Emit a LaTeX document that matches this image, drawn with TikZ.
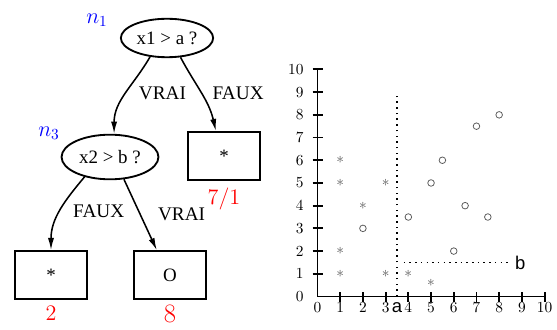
\documentclass[tikz,border=0pt]{standalone}
\usepackage{amsmath, amssymb}
\usepackage{fontspec}
\usepackage{tikz}
\usetikzlibrary{positioning, arrows.meta, shapes.geometric}
\usepackage{xcolor}
\newfontfamily\treefont{Liberation Serif}
\newfontfamily\cutfont{Liberation Sans}
\definecolor{ptgray}{gray}{0.35}

\begin{document}
\begin{tikzpicture}[x=0.65pt, y=0.65pt,
    test/.style={ellipse, draw, line width=1.2pt, inner sep=0pt,
        font=\treefont\fontsize{12.3}{14}\selectfont},
    leaf/.style={rectangle, draw, line width=1.2pt, minimum width=47pt,
        minimum height=31pt, inner sep=0pt,
        font=\treefont\fontsize{12.3}{14}\selectfont},
    branch/.style={-{Latex[length=8pt, width=4pt]}, line width=1pt},
    edgelbl/.style={font=\treefont\fontsize{12.5}{14}\selectfont, inner sep=0pt},
    nodename/.style={blue, font=\fontsize{14}{16}\selectfont},
    score/.style={red, inner sep=0pt},
    axis/.style={line width=1.2pt},
    tick/.style={inner sep=0pt},
    cut/.style={line width=1pt, dash pattern=on 1pt off 2.7pt},
    star/.style={ptgray, inner sep=0pt},
    ring/.style={draw=ptgray, line width=0.5pt}]
    \useasboundingbox (0,0) rectangle (557,329);

    % Decision tree
    \node[test, minimum width=60pt, minimum height=25pt] (n1) at (167,291) {x1 > a ?};
    \node[test, minimum width=63pt, minimum height=29pt] (n3) at (110,172) {x2 > b ?};
    \node[leaf] (f1) at (224,173) {*};
    \node[leaf] (f2) at (51,54) {*};
    \node[leaf] (f3) at (170,54) {O};

    \node[nodename] (n1name) at (97,309) {$n_1$};
    \node[nodename] (n3name) at (49,196) {$n_3$};

    \draw[branch] (n1.-132) to[out=-120, in=90]
        node[edgelbl, right=8pt] (v1) {VRAI} (n3.80);
    \draw[branch] (n1.-55) to[out=-62, in=103]
        node[edgelbl, right=7pt] (x1) {FAUX} (f1.108);
    \draw[branch] (n3.-142) to[out=-130, in=90]
        node[edgelbl, right=8pt] (x2) {FAUX} (f2.north);
    \draw[branch] (n3.-58) -- node[edgelbl, right=11pt] (v2) {VRAI} (f3.118);

    % Class counts under the leaves
    \node[score, font=\fontsize{13.5}{16}\selectfont, below=4.5pt of f1] (s1) {$7/1$};
    \node[score, font=\fontsize{15}{18}\selectfont, below=4pt of f2] (s2) {$2$};
    \node[score, font=\fontsize{19}{22}\selectfont, below=3.5pt of f3] (s3) {$8$};

    % Scatter plot
    \begin{scope}[shift={(317.5,32.5)}, x=14.76pt, y=14.76pt]
        \draw[axis] (0,10) -- (0,0) -- (10,0);
        \foreach \k in {1,...,10} {
            \draw[axis] (\k,-0.22) -- (\k,0.22);
            \draw[axis] (-0.22,\k) -- (0.22,\k);
        }
        \foreach \k in {0,...,10} {
            \node[tick, anchor=north] (tx\k) at (\k,-0.24) {$\k$};
            \node[tick, anchor=east] (ty\k) at (-0.6,\k) {$\k$};
        }

        % Split lines
        \coordinate (cutA) at (3.5,0);
        \coordinate (cutAtop) at (3.5,9);
        \coordinate (cutB) at (3.8,1.5);
        \coordinate (cutBend) at (8.45,1.5);
        \draw[cut] (cutA) -- (cutAtop);
        \draw[cut] (cutB) -- (cutBend);
        \node[font=\cutfont\fontsize{12}{14}\selectfont, inner sep=0pt] (a) at (3.5,-0.5) {a};
        \node[font=\cutfont\fontsize{12}{14}\selectfont, inner sep=0pt] (b) at (8.93,1.5) {b};

        % Class *
        \foreach \px/\py [count=\i] in {1/6, 1/5, 3/5, 2/4, 1/2, 1/1, 3/1, 4/1, 5/0.6}
            \node[star] (s\i) at (\px,\py) {$\ast$};
        % Class O
        \foreach \px/\py in {2/3, 4/3.5, 5/5, 5.5/6, 7/7.5, 8/8, 6.5/4, 7.5/3.5, 6/2}
            \draw[ring] (\px,\py) circle (0.145);
    \end{scope}
\end{tikzpicture}
\end{document}
